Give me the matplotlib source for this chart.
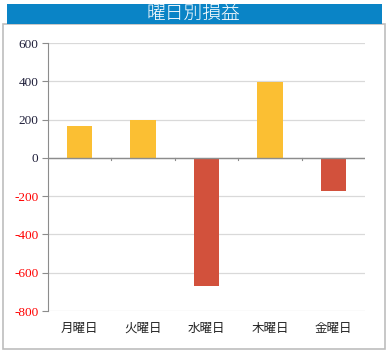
import numpy as np
import matplotlib.pyplot as plt
from matplotlib.patches import Rectangle

days = ['月曜日', '火曜日', '水曜日', '木曜日', '金曜日']
profit = [167, 200, -670, 397, -172]
yticks = [600, 400, 200, 0, -200, -400, -600, -800]

pos_color = '#FBBF33'
neg_color = '#D2513C'

fig = plt.figure(figsize=(3.87, 3.54), dpi=100)

# outer frame and title bar
fig.patches.append(Rectangle((3/387, 5/354), 382/387, 325/354, transform=fig.transFigure,
                             facecolor='white', edgecolor='#BDBDBD', lw=1.2, zorder=-2))
fig.patches.append(Rectangle((7/387, 330/354), 375/387, 20/354, transform=fig.transFigure,
                             facecolor='#0A84C6', edgecolor='none', zorder=-1))
fig.text(0.5, 340/354, '曜日別損益', color='white', fontsize=13.5, ha='center', va='center',
         family=['Noto Sans CJK JP', 'DejaVu Sans'], fontweight='light')

ax = fig.add_axes([48/387, 43/354, 317/387, 268/354])
ax.patch.set_alpha(0)
x = np.arange(len(days))
colors = [pos_color if v >= 0 else neg_color for v in profit]
ax.bar(x, profit, width=0.4, color=colors, zorder=3)

ax.set_xlim(-0.5, len(days) - 0.5)
ax.set_ylim(-800, 600)
ax.set_yticks(yticks)
ax.set_yticklabels([str(v) for v in yticks], family='Liberation Serif', fontsize=9.5)
for lab, v in zip(ax.get_yticklabels(), yticks):
    lab.set_color('#FF0000' if v < 0 else '#1F1F3A')
ax.grid(axis='y', color='#D9D9D9', lw=0.9, zorder=0)

for s in ['top', 'right', 'bottom']:
    ax.spines[s].set_visible(False)
ax.spines['left'].set_color('#8C8C8C')
ax.axhline(0, color='#8C8C8C', lw=1, zorder=4)
for b in np.arange(0.5, len(days) - 0.5, 1):
    ax.plot([b, b], [0, -12], color='#8C8C8C', lw=0.8, zorder=4)

ax.set_xticks(x)
ax.set_xticklabels(days, family=['Noto Sans CJK JP', 'DejaVu Sans'], fontsize=9, color='#222222')
ax.tick_params(axis='x', length=0, pad=8)
ax.tick_params(axis='y', length=4, color='#8C8C8C', pad=3)

fig.savefig('out.png', dpi=100)
